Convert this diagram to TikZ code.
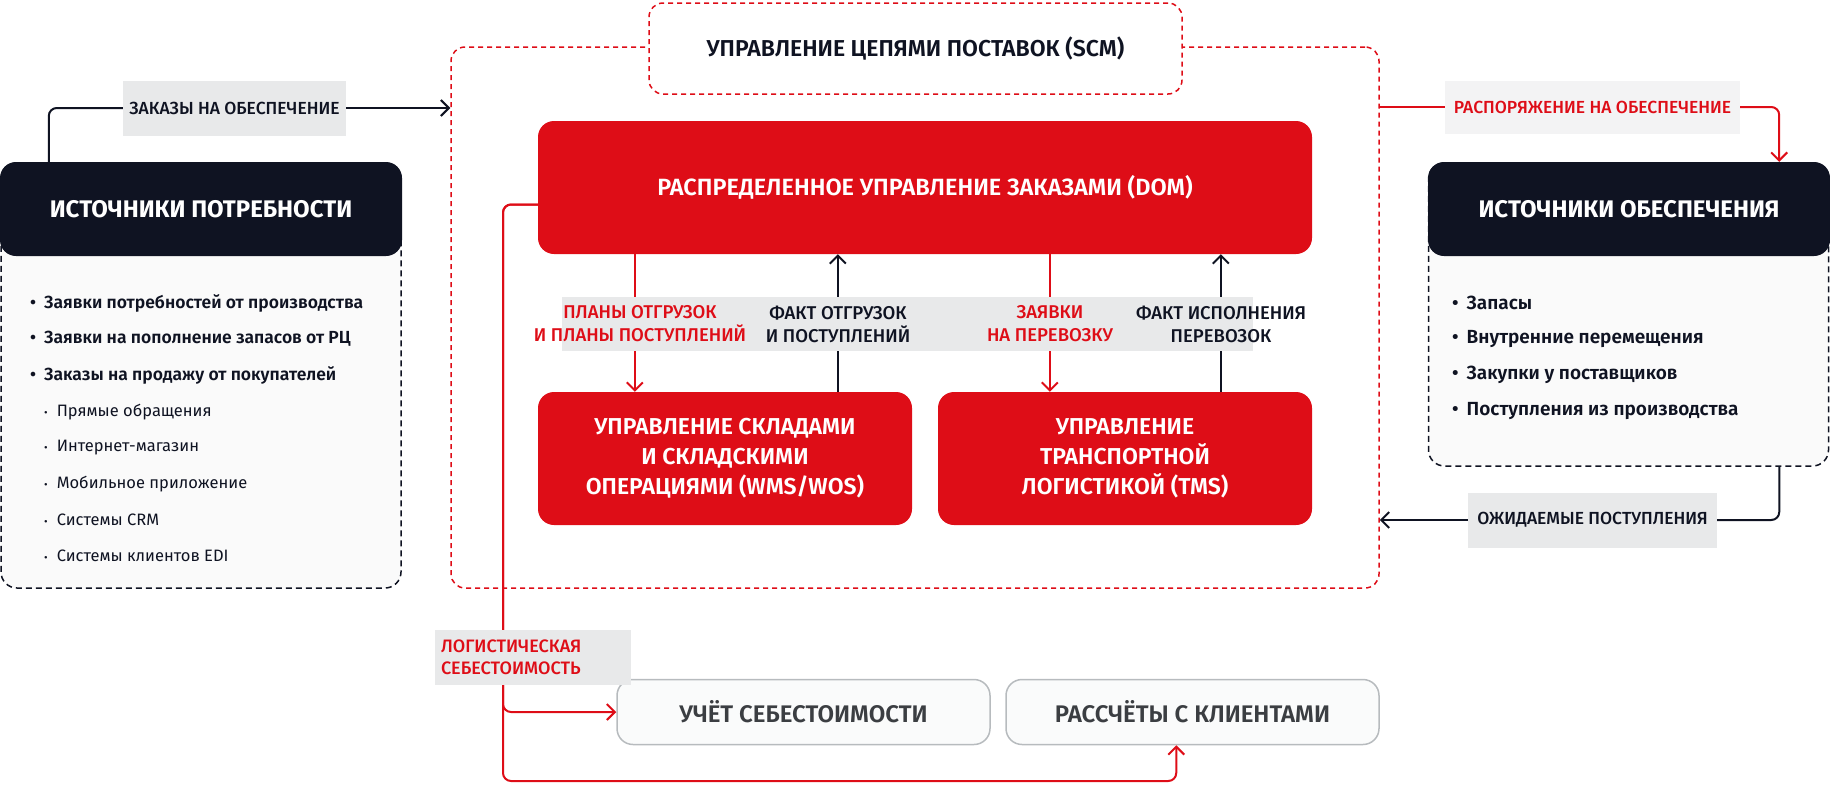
\documentclass[tikz,border=0pt]{standalone}
\usepackage{fontspec}
\setmainfont{Fira Sans}[BoldFont={Fira Sans SemiBold}]
\newfontfamily\medfont{Fira Sans Medium}
\newfontfamily\heavyfont{Fira Sans Bold}
\usetikzlibrary{arrows.meta}
\definecolor{navy}{HTML}{0F1322}
\definecolor{scmred}{HTML}{DE0D17}
\definecolor{labelgray}{HTML}{E8E9EA}
\definecolor{labellight}{HTML}{F3F3F4}
\definecolor{panelgray}{HTML}{FAFAFA}
\definecolor{boxline}{HTML}{B7BBBE}
\definecolor{boxfill}{HTML}{FAFBFB}
\definecolor{boxtext}{HTML}{3B3E42}
\begin{document}
\begin{tikzpicture}[x=1pt, y=-1pt,
    redbox/.style={fill=scmred, rounded corners=16pt, text=white, align=center, inner sep=0pt, font=\bfseries\fontsize{23}{30}\selectfont},
    headbox/.style={fill=navy, rounded corners=16pt, text=white, inner sep=0pt, minimum height=94pt, font=\heavyfont\fontsize{24}{28}\selectfont},
    panel/.style={draw=navy, fill=panelgray, line width=1.5pt, dash pattern=on 6pt off 4pt, rounded corners=16pt},
    scmbox/.style={draw=scmred, line width=1.5pt, dash pattern=on 5pt off 4pt, rounded corners=14pt},
    endbox/.style={draw=boxline, fill=boxfill, line width=1.5pt, rounded corners=16pt, text=boxtext, minimum width=373pt, minimum height=65pt, font=\bfseries\fontsize{24}{28}\selectfont},
    flowlabel/.style={fill=labelgray, inner sep=0pt, align=center, text=navy, font=\medfont\fontsize{17.5}{23}\selectfont},
    bolditem/.style={anchor=west, inner sep=0pt, text=navy, font=\bfseries\fontsize{17.5}{22}\selectfont},
    lightitem/.style={anchor=west, inner sep=0pt, text=navy, font=\fontsize{16.5}{20}\selectfont},
    darkline/.style={draw=navy, line width=2pt, rounded corners=8pt},
    redline/.style={draw=scmred, line width=2pt, rounded corners=8pt},
    barb/.style={-{Straight Barb[length=8pt,width=16pt]}}
]
\useasboundingbox (0,0) rectangle (1830,785);

\node[scmbox, minimum width=928pt, minimum height=541pt] (scm) at (915,317.5) {};
\node[scmbox, fill=white, minimum width=533pt, minimum height=91pt, text=navy, font=\bfseries\fontsize{23}{27}\selectfont] (scmtitle) at (915.5,48.5) {УПРАВЛЕНИЕ ЦЕПЯМИ ПОСТАВОК (SCM)};
\node[redbox, minimum width=774pt, minimum height=133pt, font=\bfseries\fontsize{23.5}{30}\selectfont] (dom) at (925,187.5) {РАСПРЕДЕЛЕННОЕ УПРАВЛЕНИЕ ЗАКАЗАМИ (DOM)};
\node[redbox, minimum width=374pt, minimum height=133pt] (wms) at (725,458.5) {УПРАВЛЕНИЕ СКЛАДАМИ\\И СКЛАДСКИМИ\\ОПЕРАЦИЯМИ (WMS/WOS)};
\node[redbox, minimum width=374pt, minimum height=133pt] (tms) at (1125,458.5) {УПРАВЛЕНИЕ\\ТРАНСПОРТНОЙ\\ЛОГИСТИКОЙ (TMS)};
\node[endbox] (cost) at (803.5,712) {УЧЁТ СЕБЕСТОИМОСТИ};
\node[endbox] (settle) at (1192.5,712) {РАССЧЁТЫ С КЛИЕНТАМИ};

\node[panel, minimum width=400pt, minimum height=425pt] (needpanel) at (201,375.5) {};
\node[headbox, minimum width=402pt] (needhead) at (201,209) {ИСТОЧНИКИ ПОТРЕБНОСТИ};
\node[panel, minimum width=400pt, minimum height=303pt] (supplypanel) at (1628.5,314.5) {};
\node[headbox, minimum width=402pt] (supplyhead) at (1629,209) {ИСТОЧНИКИ ОБЕСПЕЧЕНИЯ};

\foreach \txt [count=\i] in {Заявки потребностей от производства, Заявки на пополнение запасов от РЦ, Заказы на продажу от покупателей}
    \node[bolditem] (needmain\i) at (30,267+36*\i) {•\hspace{8pt}\txt};
\foreach \txt [count=\i] in {Прямые обращения, Интернет-магазин, Мобильное приложение, Системы CRM, Системы клиентов EDI}
    \node[lightitem] (needsub\i) at (44,376+36*\i) {{\fontsize{11}{11}\selectfont•}\hspace{9pt}\txt};
\foreach \txt [count=\i] in {Запасы, Внутренние перемещения, Закупки у поставщиков, Поступления из производства}
    \node[bolditem, font=\bfseries\fontsize{19}{22}\selectfont] (supplyitem\i) at (1452,267+36*\i) {•\hspace{8pt}\txt};

\node[flowlabel, minimum width=223pt, minimum height=55pt] (orders) at (234.5,108) {ЗАКАЗЫ НА ОБЕСПЕЧЕНИЕ};
\node[flowlabel, fill=labellight, text=scmred, minimum width=295pt, minimum height=53pt] (release) at (1592.5,107) {РАСПОРЯЖЕНИЕ НА ОБЕСПЕЧЕНИЕ};
\node[flowlabel, minimum width=249pt, minimum height=55pt] (expected) at (1592.5,520) {ОЖИДАЕМЫЕ ПОСТУПЛЕНИЯ};

\draw[darkline] ([xshift=49pt]needhead.north west) |- (orders.west);
\draw[darkline, barb] (orders.east) -- (orders.east -| scm.west);
\draw[redline] (release.west -| scm.east) -- (release.west);
\draw[redline, barb] (release.east) -| ([xshift=-51pt]supplyhead.north east);
\draw[darkline] ([xshift=-50pt]supplypanel.south east) |- (expected.east);
\draw[darkline, barb] (expected.west) -- (expected.west -| scm.east);

\draw[redline, barb] ([xshift=97pt]dom.south west) -- ([xshift=97pt]wms.north west);
\draw[darkline, barb] ([xshift=300pt]wms.north west) -- ([xshift=300pt]dom.south west);
\draw[redline, barb] ([xshift=512pt]dom.south west) -- ([xshift=112pt]tms.north west);
\draw[darkline, barb] ([xshift=283pt]tms.north west) -- ([xshift=683pt]dom.south west);

\fill[labelgray] (562,297) rectangle (1253,351);
\node[flowlabel, fill=none, text=scmred, font=\medfont\fontsize{18.5}{23}\selectfont] (shipplan) at (640,324) {ПЛАНЫ ОТГРУЗОК\\И ПЛАНЫ ПОСТУПЛЕНИЙ};
\node[flowlabel, fill=none, font=\medfont\fontsize{18.5}{23}\selectfont] (shipfact) at (838,324) {ФАКТ ОТГРУЗОК\\И ПОСТУПЛЕНИЙ};
\node[flowlabel, fill=none, text=scmred, font=\medfont\fontsize{18.5}{23}\selectfont] (transreq) at (1050,324) {ЗАЯВКИ\\НА ПЕРЕВОЗКУ};
\node[flowlabel, fill=none, font=\medfont\fontsize{18.5}{23}\selectfont] (transfact) at (1221,324) {ФАКТ ИСПОЛНЕНИЯ\\ПЕРЕВОЗОК};

\coordinate (rail) at (503,781);
\draw[redline, barb] ([yshift=-17pt]dom.west) -| (rail |- cost.west) -- (cost.west);
\draw[redline, barb] ([yshift=-17pt]dom.west) -| (rail) -| ([xshift=171pt]settle.south west);
\node[flowlabel, text=scmred, text width=184pt, align=left, inner xsep=6pt, minimum height=55pt, font=\medfont\fontsize{18}{22}\selectfont] (logcost) at (533,657.5) {ЛОГИСТИЧЕСКАЯ\\СЕБЕСТОИМОСТЬ};
\end{tikzpicture}
\end{document}
